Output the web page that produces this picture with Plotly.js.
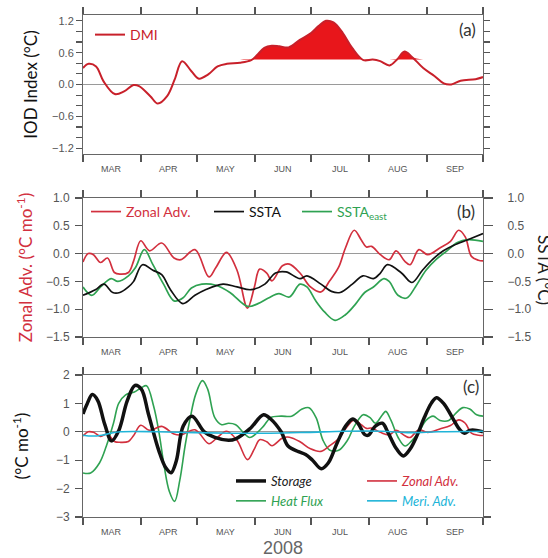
<!DOCTYPE html>
<html><head><meta charset="utf-8">
<script src="https://cdn.plot.ly/plotly-3.0.1.min.js"></script>
<style>html,body{margin:0;padding:0;background:#fff}</style>
</head><body><div id="chart" style="width:548px;height:558px"></div>
<script>
// x values are days since 1 March 2008
const monthStarts = [0,31,61,92,122,153,184,214];
const monthMids = [15.5,46,76.5,107,137.5,168.5,199];
const monthLabels = ['MAR','APR','MAY','JUN','JUL','AUG','SEP'];
const iodTicks = [-1.2,-1.0,-0.8,-0.6,-0.4,-0.2,0,0.2,0.4,0.6,0.8,1.0,1.2];
const iodTickText = ['\u22121.2','','','\u22120.6','','','0.0','','','0.6','','','1.2'];

// (a) DMI
const dmiDay = [0,3,7,11,17,22,27,30,36,40,45,49,53,58,62,67,72,77,84,90,93,97,101,105,110,116,122,126,130,134,139,144,150,155,159,164,168,172,176,182,188,193,197,202,210,214];
const dmiVal = [0.31,0.39,0.34,0.06,-0.18,-0.13,-0.01,-0.03,-0.22,-0.36,-0.22,0.09,0.44,0.25,0.11,0.19,0.34,0.39,0.41,0.46,0.55,0.69,0.73,0.72,0.70,0.84,0.97,1.10,1.20,1.17,0.97,0.69,0.46,0.47,0.44,0.36,0.47,0.62,0.52,0.31,0.16,0.02,0.00,0.07,0.10,0.14];
const dmiThreshold = 0.47;

// (b)
const zonDay = [0,2.8,5.6,9.4,13.1,16.8,19.7,24.3,27.1,30.9,35.6,42.1,48.7,52.4,59.9,67.4,71.1,76.8,82.4,88,91.7,94.5,98.3,101.1,106.7,110.4,116.1,121.7,127.3,132,136.7,140.4,145.1,148.8,151.6,154.4,159.1,163.8,167.5,172.2,175,179.7,184.4,190.9,196.6,201,204.5,207.8,211.5,214];
const zonVal = [-0.15,0.0,-0.02,-0.16,-0.08,-0.34,-0.37,-0.34,-0.13,0.23,0.05,0.19,-0.08,-0.11,0.07,-0.42,-0.25,0.02,-0.3,-0.98,-0.6,-0.28,-0.35,-0.49,-0.22,-0.19,-0.35,-0.6,-0.69,-0.49,-0.25,0.1,0.42,0.25,0.12,0.13,-0.02,-0.11,0.05,-0.14,-0.2,0.07,-0.02,0.1,0.22,0.42,0.3,-0.05,-0.12,-0.13];

const sstaDay = [0,6.6,11.2,15.9,19.7,24.3,27.1,31.8,37.4,42.1,46.8,53.4,59.9,65.5,74.9,82.4,89.9,97.3,103,108.6,116.1,119.8,127.3,132.9,137.6,144.1,149.8,155.4,159.1,162.9,170.4,176,181.6,187.2,192.8,198.4,205.9,214];
const sstaVal = [-0.75,-0.65,-0.55,-0.7,-0.7,-0.6,-0.5,-0.2,-0.3,-0.38,-0.65,-0.9,-0.75,-0.65,-0.55,-0.6,-0.65,-0.55,-0.35,-0.33,-0.45,-0.4,-0.55,-0.68,-0.7,-0.55,-0.4,-0.45,-0.35,-0.2,-0.35,-0.52,-0.3,-0.1,0.05,0.15,0.25,0.36];

const eastDay = [0,4.7,9.4,15,18.7,24.3,28.1,32.8,37.4,43.1,48.7,53.4,58,63.6,71.1,78.6,88,93.6,99.2,104.8,110.4,116.1,119.8,124.5,129.2,134.8,140.4,146,150.7,155.4,161,163.8,168.5,173.2,177.8,183.5,189.1,194.7,200.3,205.9,214];
const eastVal = [-0.6,-0.75,-0.6,-0.45,-0.5,-0.4,-0.25,0.07,-0.2,-0.55,-0.85,-0.8,-0.62,-0.55,-0.57,-0.7,-0.95,-0.9,-0.8,-0.72,-0.78,-0.55,-0.6,-0.85,-1.05,-1.2,-1.1,-0.9,-0.7,-0.6,-0.45,-0.5,-0.75,-0.8,-0.6,-0.3,-0.1,0.05,0.2,0.25,0.22];

// (c)
const storDay = [0,2.2,5,7.9,11.6,15.3,19.1,23.7,27.8,31.2,35,40.6,44.3,47.1,49.9,53.6,58.3,64.9,70.5,77.9,81.7,89.2,96.6,100.4,106,109.7,115.3,119.1,122.8,127.5,131.2,135.9,140.5,144.3,147.1,150.8,152.7,156.4,160.2,163,167.7,171.4,175.1,178.9,182.6,186.3,189.1,192.9,197.6,201.3,204.1,206.9,210.6,214];
const storVal = [0.63,0.98,1.31,1.1,0.27,-0.32,0.04,1.1,1.63,1.5,0.63,-0.67,-1.27,-1.44,-1.03,0.2,0.55,0.0,-0.2,-0.3,-0.25,0.1,0.6,0.45,0.0,-0.5,-0.7,-0.8,-1.0,-1.3,-1.1,-0.4,0.2,0.45,0.3,-0.1,-0.12,0.2,0.3,0.0,-0.6,-0.85,-0.6,-0.1,0.5,1.0,1.2,1.0,0.5,0.1,-0.05,0.05,0.05,0.0];

const heatDay = [0,4.1,8.8,12.5,16.3,19.1,22.8,27.5,31.2,34,37.8,40.6,43.4,46.2,49,51.8,54.6,57.4,60.2,63.9,66.7,70.5,74.2,77.9,81.7,85.4,89.2,92.9,96.6,100.4,106,111.6,117.2,120.9,124.7,128.4,132.1,136.8,141.5,145.2,149.9,153.6,156.4,160.2,162,164.8,168.6,172.3,176.1,179.8,183.5,187.3,191,195.7,199.4,203.2,206.9,210.6,214];
const heatVal = [-1.45,-1.45,-1.1,-0.5,0.3,1.0,1.3,1.4,1.55,1.62,0.9,0.0,-1.2,-2.1,-2.45,-1.7,-0.5,0.5,1.3,1.8,1.5,0.5,0.25,0.3,0.25,0.0,-0.2,-0.05,0.2,0.5,0.55,0.55,0.8,0.85,0.5,-0.3,-0.65,-0.65,-0.3,0.2,0.6,0.5,0.3,0.6,0.72,0.4,-0.2,-0.5,-0.3,0.0,0.4,0.55,0.4,0.4,0.65,0.85,0.8,0.6,0.55];

const meriDay = [0,5,10,15,20,40,60,80,100,120,140,160,175,190,214];
const meriVal = [-0.12,-0.15,-0.12,-0.05,0.0,0.0,-0.03,-0.05,-0.05,-0.02,0.02,0.02,-0.03,0.0,0.02];

const RED = '#d2303e', BLACK = '#111111', GREEN = '#2fa252', CYAN = '#20b4d8', DMIRED = '#c8202a';
const AXC = '#555555', LBL = '#555555';
const spl = {shape:'spline', smoothing:1};

// shaded part of the DMI: only the stretch of the record that rises above the threshold
const fillIdx = dmiDay.map((d, i) => i).filter(i => dmiDay[i] >= 84 && dmiDay[i] <= 182);
const fillDay = fillIdx.map(i => dmiDay[i]);
const fillTop = fillIdx.map(i => Math.max(dmiVal[i], dmiThreshold));

const traces = [
  {x: fillDay, y: fillDay.map(() => dmiThreshold), xaxis:'x', yaxis:'y', mode:'lines', line:{width:0, color:'rgba(0,0,0,0)'}, showlegend:false, hoverinfo:'skip'},
  {x: fillDay, y: fillTop, xaxis:'x', yaxis:'y', mode:'lines', line:Object.assign({width:0, color:'rgba(0,0,0,0)'}, spl), fill:'tonexty', fillcolor:'#e8161b', showlegend:false, hoverinfo:'skip'},
  {x: dmiDay, y: dmiVal, xaxis:'x', yaxis:'y', mode:'lines', name:'DMI', line:Object.assign({width:2, color:DMIRED}, spl), legend:'legend'},

  {x: eastDay, y: eastVal, xaxis:'x2', yaxis:'y3', mode:'lines', name:'SSTA<sub>east</sub>', line:Object.assign({width:1.7, color:GREEN}, spl), legend:'legend4'},
  {x: sstaDay, y: sstaVal, xaxis:'x2', yaxis:'y3', mode:'lines', name:'SSTA', line:Object.assign({width:1.7, color:BLACK}, spl), legend:'legend3'},
  {x: zonDay, y: zonVal, xaxis:'x2', yaxis:'y2', mode:'lines', name:'Zonal Adv.', line:Object.assign({width:1.7, color:RED}, spl), legend:'legend2'},

  {x: heatDay, y: heatVal, xaxis:'x3', yaxis:'y4', mode:'lines', name:'<span style="color:'+GREEN+'"><i>Heat Flux</i></span>', line:Object.assign({width:1.6, color:GREEN}, spl), legend:'legend5', legendrank:2},
  {x: zonDay, y: zonVal, xaxis:'x3', yaxis:'y4', mode:'lines', name:'<span style="color:'+RED+'"><i>Zonal Adv.</i></span>', line:Object.assign({width:1.6, color:RED}, spl), legend:'legend6', legendrank:1},
  {x: storDay, y: storVal, xaxis:'x3', yaxis:'y4', mode:'lines', name:'<span style="color:#222"><i>Storage</i></span>', line:Object.assign({width:3.5, color:BLACK}, spl), legend:'legend5', legendrank:1},
  {x: meriDay, y: meriVal, xaxis:'x3', yaxis:'y4', mode:'lines', name:'<span style="color:'+CYAN+'"><i>Meri. Adv.</i></span>', line:Object.assign({width:1.6, color:CYAN}, spl), legend:'legend6', legendrank:2}
];

function xAx(anchor){
  return {anchor:anchor, domain:[0,1], range:[0,214], tickmode:'array', tickvals:monthStarts, showticklabels:false,
    ticks:'outside', ticklen:7, tickcolor:AXC, tickwidth:1.2,
    showline:true, linecolor:'#666', linewidth:1, mirror:'ticks', showgrid:false, zeroline:false, fixedrange:true};
}
function yBase(extra){
  return Object.assign({showline:true, linecolor:'#666', linewidth:1, showgrid:false, zeroline:true, zerolinecolor:'#9a9a9a', zerolinewidth:1,
    ticks:'outside', ticklen:7, tickcolor:AXC, tickwidth:1.2, tickfont:{family:'Liberation Sans', size:12, color:LBL}, fixedrange:true}, extra);
}
function leg(x, y, color){
  return {x:x, y:y, xanchor:'left', yanchor:'top', bgcolor:'rgba(0,0,0,0)', borderwidth:0, orientation:'v', tracegroupgap:0,
    font:{family:'Lato', size:14, color:color}};
}

// month labels placed through each panel's x scale, just below its bottom edge
const panelBottoms = [{xref:'x', y:0.7231}, {xref:'x2', y:0.3586}, {xref:'x3', y:0}];
const monthAnnots = [];
panelBottoms.forEach(p => monthMids.forEach((m, i) => monthAnnots.push({
  text: monthLabels[i], xref: p.xref, yref:'paper', x: m, y: p.y, xanchor:'center', yanchor:'top', yshift:-8,
  showarrow:false, font:{family:'Liberation Sans', size:9, color:LBL}
})));

const layout = {
  width:548, height:558, margin:{l:83, r:65, t:15, b:41}, paper_bgcolor:'#fff', plot_bgcolor:'#fff',
  xaxis: xAx('y'),
  xaxis2: xAx('y2'),
  xaxis3: Object.assign(xAx('y4'), {title:{text:'2008', font:{family:'Liberation Sans', size:18, color:'#666'}, standoff:22}}),
  yaxis: yBase({domain:[0.7231,1], range:[-1.31,1.31], tickmode:'array', tickvals:iodTicks, ticktext:iodTickText, mirror:'ticks',
    tickfont:{family:'Liberation Sans', size:11, color:LBL}, ticklen:6,
    title:{text:'IOD Index (°C)', font:{family:'Lato', size:17, color:'#111'}, standoff:10}}),
  yaxis2: yBase({domain:[0.3586,0.6355], range:[-1.5,1.0], tickmode:'linear', tick0:0, dtick:0.5, tickformat:'.1f', mirror:true, ticklabelstandoff:3,
    title:{text:'Zonal Adv. (°C mo<sup>-1</sup>)', font:{family:'Lato', size:17, color:RED}, standoff:8}}),
  yaxis3: yBase({overlaying:'y2', side:'right', anchor:'x2', range:[-1.5,1.0], tickmode:'linear', tick0:0, dtick:0.5, tickformat:'.1f',
    showline:false, zeroline:false, ticklen:9, ticklabelstandoff:12}),
  yaxis4: yBase({domain:[0,0.2829], range:[-3,2], tickmode:'linear', tick0:0, dtick:1, mirror:'ticks', ticklabelstandoff:3,
    title:{text:'(°C mo<sup>-1</sup>)', font:{family:'Lato', size:17, color:'#111'}, standoff:22}}),
  legend: leg(0.0175, 0.992, DMIRED),
  legend2: leg(0.0075, 0.6395, RED),
  legend3: leg(0.315, 0.6395, BLACK),
  legend4: leg(0.535, 0.6395, GREEN),
  legend5: Object.assign(leg(0.37, 0.1016, BLACK), {font:{family:'Lato', size:13, color:BLACK}}),
  legend6: Object.assign(leg(0.6975, 0.1016, RED), {font:{family:'Lato', size:13, color:RED}}),
  annotations: [
    {text:'(a)', xref:'paper', yref:'paper', x:0.9875, y:0.972, xanchor:'right', yanchor:'middle', showarrow:false, font:{family:'Lato', size:17, color:'#333'}},
    {text:'(b)', xref:'paper', yref:'paper', x:0.985, y:0.6076, xanchor:'right', yanchor:'middle', showarrow:false, font:{family:'Lato', size:17, color:'#333'}},
    {text:'(c)', xref:'paper', yref:'paper', x:0.995, y:0.259, xanchor:'right', yanchor:'middle', showarrow:false, font:{family:'Lato', size:17, color:'#333'}},
    {text:'SSTA (°C)', xref:'paper', yref:'paper', x:1.155, y:0.492, xanchor:'center', yanchor:'middle', textangle:90, showarrow:false, font:{family:'Lato', size:17, color:'#222'}}
  ].concat(monthAnnots),
  showlegend:true
};

Plotly.newPlot('chart', traces, layout, {displayModeBar:false, staticPlot:true});
</script></body></html>
